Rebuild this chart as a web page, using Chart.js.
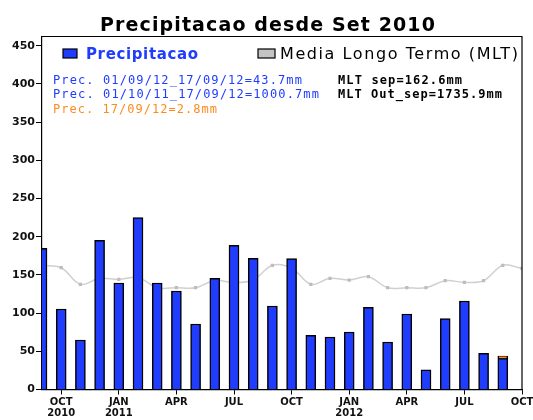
<!DOCTYPE html>
<html>
<head>
<meta charset="utf-8">
<script src="https://cdn.jsdelivr.net/npm/chart.js@4/dist/chart.umd.min.js"></script>
<style>
  html, body { margin: 0; padding: 0; background: #fff; }
</style>
</head>
<body>
<canvas id="chartPrecip" width="533" height="420"></canvas>
<script>
// Meses de Set 2010 a Set 2012 (indice 0..24); Out 2012 (25) fica na borda direita
const meses = ['SET 2010', 'OUT 2010', 'NOV 2010', 'DEZ 2010', 'JAN 2011', 'FEV 2011', 'MAR 2011', 'ABR 2011', 'MAI 2011', 'JUN 2011', 'JUL 2011', 'AGO 2011',
  'SET 2011', 'OUT 2011', 'NOV 2011', 'DEZ 2011', 'JAN 2012', 'FEV 2012', 'MAR 2012', 'ABR 2012', 'MAI 2012', 'JUN 2012', 'JUL 2012', 'AGO 2012', 'SET 2012'];
const precip = [184.8, 105.4, 64.8, 195.3, 139.4, 224.9, 139.4, 128.9, 85.7, 145.5, 188.7, 171.7,
  109.3, 171.2, 70.9, 68.7, 75.3, 107.6, 62.2, 98.8, 25.9, 92.7, 115.8, 47.4, 43.7];
const precipUltimoDia = 2.8; // 17/09/12
const mlt = [162.6, 159.4, 137.7, 145.5, 144.0, 146.6, 133.2, 133.2, 133.2, 142.7, 140.0, 143.3,
  162.6, 159.0, 137.7, 145.5, 143.3, 147.6, 133.2, 133.2, 133.2, 142.4, 140.3, 142.4, 162.6, 158.6];
const xTickPos = [1, 4, 7, 10, 13, 16, 19, 22, 25];
const xTickLabels = [['OCT', '2010'], ['JAN', '2011'], 'APR', 'JUL', 'OCT', ['JAN', '2012'], 'APR', 'JUL', 'OCT'];
const yTicks = [0, 50, 100, 150, 200, 250, 300, 350, 400, 450];

const AZUL = '#1f3cff', LARANJA = '#ff8a1e', CINZA = '#c4c4c4';
const ultimo = precip.length - 1;

function textoAjustado(ctx, s, x, y, w, font, cor) {
  ctx.save();
  ctx.font = font; ctx.fillStyle = cor; ctx.textAlign = 'left'; ctx.textBaseline = 'alphabetic';
  const temLS = 'letterSpacing' in ctx;
  if (temLS) ctx.letterSpacing = '0px';
  const nat = ctx.measureText(s).width;
  const sp = (w - nat) / Math.max(1, s.length - 1);
  if (sp < 0) ctx.fillText(s, x, y, w);
  else { if (temLS) ctx.letterSpacing = sp.toFixed(2) + 'px'; ctx.fillText(s, x, y); }
  ctx.restore();
}

const textos = {
  id: 'textos',
  afterDraw(chart) {
    const ctx = chart.ctx, a = chart.chartArea;
    // moldura (topo e direita)
    ctx.save();
    ctx.strokeStyle = '#000'; ctx.lineWidth = 1.2;
    ctx.beginPath(); ctx.moveTo(a.left, a.top); ctx.lineTo(a.right, a.top); ctx.lineTo(a.right, a.bottom); ctx.stroke();
    // legenda
    ctx.fillStyle = AZUL; ctx.fillRect(63, 49, 14, 9); ctx.strokeRect(63, 49, 14, 9);
    ctx.fillStyle = CINZA; ctx.fillRect(258, 49, 17, 9); ctx.strokeRect(258, 49, 17, 9);
    ctx.restore();
    textoAjustado(ctx, 'Precipitacao desde Set 2010', 100, 31, 335, 'bold 19px "DejaVu Sans"', '#000');
    textoAjustado(ctx, 'Precipitacao', 86, 59, 112, 'bold 15px "DejaVu Sans"', AZUL);
    textoAjustado(ctx, 'Media Longo Termo (MLT)', 280, 59, 238, '16px "DejaVu Sans"', '#000');
    const fp = '12px "DejaVu Sans Mono"';
    textoAjustado(ctx, 'Prec. 01/09/12_17/09/12=43.7mm', 53, 84, 249, fp, AZUL);
    textoAjustado(ctx, 'Prec. 01/10/11_17/09/12=1000.7mm', 53, 98, 266, fp, AZUL);
    textoAjustado(ctx, 'Prec. 17/09/12=2.8mm', 53, 113, 164, fp, LARANJA);
    textoAjustado(ctx, 'MLT sep=162.6mm', 338, 84, 124, 'bold ' + fp, '#000');
    textoAjustado(ctx, 'MLT Out_sep=1735.9mm', 338, 98, 164, 'bold ' + fp, '#000');
  }
};

new Chart(document.getElementById('chartPrecip'), {
  data: {
    datasets: [
      { type: 'bar', label: 'Prec. 17/09/12', data: [{ x: ultimo, y: [precip[ultimo] - precipUltimoDia, precip[ultimo]] }],
        backgroundColor: LARANJA, borderColor: '#000', borderWidth: { top: 0.8, left: 1.5, right: 1.5, bottom: 0 }, borderSkipped: false,
        barThickness: 10, grouped: false, clip: 0, order: 1 },
      { type: 'bar', label: 'Precipitacao', data: precip.map((v, i) => ({ x: i, y: i === ultimo ? v - precipUltimoDia : v })),
        backgroundColor: AZUL, borderColor: '#000', borderWidth: 1.5, barThickness: 10, grouped: false, clip: 0, order: 2 },
      { type: 'line', label: 'Media Longo Termo (MLT)', data: mlt.map((v, i) => ({ x: i, y: v })),
        borderColor: '#d0d0d0', borderWidth: 1.5, tension: 0.35, pointStyle: 'rect', pointRadius: 2.3,
        pointBackgroundColor: '#bdbdbd', pointBorderWidth: 0, order: 3 }
    ]
  },
  options: {
    responsive: false, animation: false, events: [],
    layout: { padding: { top: 36.5, right: 11, left: 0, bottom: 0 } },
    plugins: { legend: { display: false }, title: { display: false }, tooltip: { enabled: false } },
    scales: {
      x: {
        type: 'linear', min: 0, max: 25, offset: false,
        afterBuildTicks: s => { s.ticks = xTickPos.map(v => ({ value: v })); },
        afterFit: s => { s.height = 30.5; s.paddingLeft = 0; s.paddingRight = 0; },
        grid: { drawOnChartArea: false, tickLength: 5, color: '#000', offset: false },
        border: { color: '#000', width: 1.2 },
        ticks: { autoSkip: false, maxRotation: 0, padding: 2, color: '#111', font: { family: 'DejaVu Sans', size: 10, weight: 'bold', lineHeight: 1.15 },
          callback: v => { const k = xTickPos.indexOf(v); return k >= 0 ? xTickLabels[k] : ''; } }
      },
      y: {
        min: 0, max: 462,
        afterBuildTicks: s => { s.ticks = yTicks.map(v => ({ value: v })); },
        afterFit: s => { s.width = 42; s.paddingTop = 0; s.paddingBottom = 0; },
        grid: { drawOnChartArea: false, tickLength: 6, color: '#000' },
        border: { color: '#000', width: 1.2 },
        ticks: { padding: 1, color: '#111', font: { family: 'DejaVu Sans', size: 11, weight: 'bold' } }
      }
    }
  },
  plugins: [textos]
});
</script>
</body>
</html>
